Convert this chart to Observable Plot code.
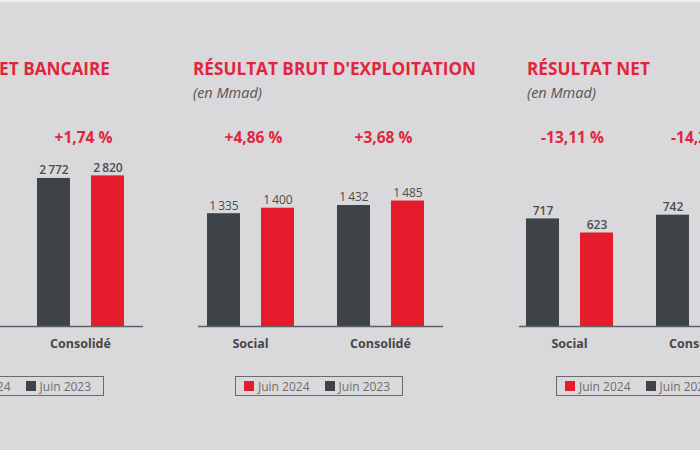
<!DOCTYPE html>
<html><head><meta charset="utf-8">
<script src="https://cdn.jsdelivr.net/npm/d3@7"></script>
<script src="https://cdn.jsdelivr.net/npm/@observablehq/plot@0.6"></script>
<style>
body{margin:0;background:#d9d9db;}
#c{position:relative;width:700px;height:450px;overflow:hidden;background:#d9d9db;font-family:"Open Sans",sans-serif;}
#topstrip{position:absolute;left:0;top:0;width:700px;height:2px;background:#eceeed;}
.title{position:absolute;top:58px;font-weight:700;font-size:17.2px;color:#e2253c;white-space:nowrap;line-height:22px;}
.sub{position:absolute;top:83px;font-style:italic;font-size:14.5px;color:#555;white-space:nowrap;line-height:20px;}
.panel{position:absolute;top:110px;}
.legend{position:absolute;top:376px;width:166px;height:18px;border:1.5px solid #6a6a6a;display:flex;align-items:center;font-size:12px;color:#6e6e6e;white-space:nowrap;}
.sw{display:inline-block;width:10px;height:10px;margin:0 4px 0 8px;}
.sw2{margin-left:15px;}
</style></head><body><div id="c"><div id="topstrip"></div></div>
<script>
// ---- data ----
const groups = ["Social", "Consolidé"];
const years = ["Juin 2023", "Juin 2024"];
const legendOrder = ["Juin 2024", "Juin 2023"];
const titles = ["PRODUIT NET BANCAIRE", "RÉSULTAT BRUT D'EXPLOITATION", "RÉSULTAT NET"];
const subtitle = "(en Mmad)";

const pnbData = [
  {group: "Consolidé", year: "Juin 2023", value: 2772},
  {group: "Consolidé", year: "Juin 2024", value: 2820}
];
const pnbPct = [{group: "Consolidé", pct: "+1,74 %"}];

const rbeData = [
  {group: "Social", year: "Juin 2023", value: 1335},
  {group: "Social", year: "Juin 2024", value: 1400},
  {group: "Consolidé", year: "Juin 2023", value: 1432},
  {group: "Consolidé", year: "Juin 2024", value: 1485}
];
const rbePct = [{group: "Social", pct: "+4,86 %"}, {group: "Consolidé", pct: "+3,68 %"}];

const rnData = [
  {group: "Social", year: "Juin 2023", value: 717},
  {group: "Social", year: "Juin 2024", value: 623},
  {group: "Consolidé", year: "Juin 2023", value: 742}
];
const rnPct = [{group: "Social", pct: "-13,11 %"}, {group: "Consolidé", pct: "-14,29 %"}];

// ---- styles / layout ----
const DARK = "#3e4347", RED = "#e61b2c";
const fmt = d3.formatLocale({decimal: ",", thousands: "\u2009", grouping: [3], currency: ["", ""]}).format(",");

const panels = [
  {data: pnbData, pct: pnbPct, title: titles[0], left: -130, width: 290, ml: 15, mr: 15, yMax: 3520, il: 0, ir: 2, legendLeft: -64, titleRight: 590, valueWeight: 600},
  {data: rbeData, pct: rbePct, title: titles[1], left: 180, width: 270, ml: 5, mr: 5, yMax: 2225, il: 13, ir: 2, legendLeft: 235, titleLeft: 193, valueWeight: 400},
  {data: rnData, pct: rnPct, title: titles[2], left: 495, width: 280, ml: 9, mr: 11, yMax: 1253, il: 15, ir: 0, legendLeft: 556, titleLeft: 527, valueWeight: 600}
];

const c = document.getElementById("c");

for (const p of panels) {
  const t = document.createElement("div");
  t.className = "title";
  t.textContent = p.title;
  if (p.titleRight !== undefined) t.style.right = p.titleRight + "px"; else t.style.left = p.titleLeft + "px";
  c.appendChild(t);
  if (p.titleLeft !== undefined) {
    const s = document.createElement("div");
    s.className = "sub";
    s.textContent = subtitle;
    s.style.left = p.titleLeft + "px";
    c.appendChild(s);
  }

  const chart = Plot.plot({
    width: p.width, height: 250,
    marginTop: 28, marginBottom: 34, marginLeft: p.ml, marginRight: p.mr,
    style: {background: "transparent", fontFamily: "Open Sans, sans-serif", overflow: "visible", maxWidth: "none"},
    fx: {domain: groups, padding: 0, axis: null},
    x: {domain: years, padding: 0.389, axis: null},
    y: {domain: [0, p.yMax], axis: null},
    color: {domain: years, range: [DARK, RED]},
    marks: [
      Plot.barY(p.data, {fx: "group", x: "year", y: "value", fill: "year"}),
      Plot.ruleY([groups[0]], {fx: d => d, y: () => 0, insetLeft: p.il, stroke: "#5d6166", strokeWidth: 1.5}),
      Plot.ruleY([groups[1]], {fx: d => d, y: () => 0, insetRight: p.ir, stroke: "#5d6166", strokeWidth: 1.5}),
      Plot.text(p.data, {fx: "group", x: "year", y: "value", text: d => fmt(d.value), dy: -8, fill: "#4d4d4d", fontSize: 12, fontWeight: p.valueWeight}),
      Plot.text(p.pct, {fx: "group", text: "pct", frameAnchor: "top", lineAnchor: "middle", dx: 3, fill: "#e2253c", fontSize: 15.5, fontWeight: 700}),
      Plot.text(groups, {fx: d => d, text: d => d, frameAnchor: "bottom", lineAnchor: "middle", dy: 17, fill: "#474747", fontSize: 12.5, fontWeight: 700})
    ]
  });
  chart.style.maxWidth = "none";
  const wrap = document.createElement("div");
  wrap.className = "panel";
  wrap.style.left = p.left + "px";
  wrap.style.width = p.width + "px";
  wrap.appendChild(chart);
  c.appendChild(wrap);

  const lg = document.createElement("div");
  lg.className = "legend";
  lg.style.left = p.legendLeft + "px";
  legendOrder.forEach((y, i) => {
    const sw = document.createElement("span");
    sw.className = "sw" + (i ? " sw2" : "");
    sw.style.background = y === "Juin 2024" ? RED : DARK;
    lg.appendChild(sw);
    const tx = document.createElement("span");
    tx.textContent = y;
    lg.appendChild(tx);
  });
  c.appendChild(lg);
}
</script></body></html>
